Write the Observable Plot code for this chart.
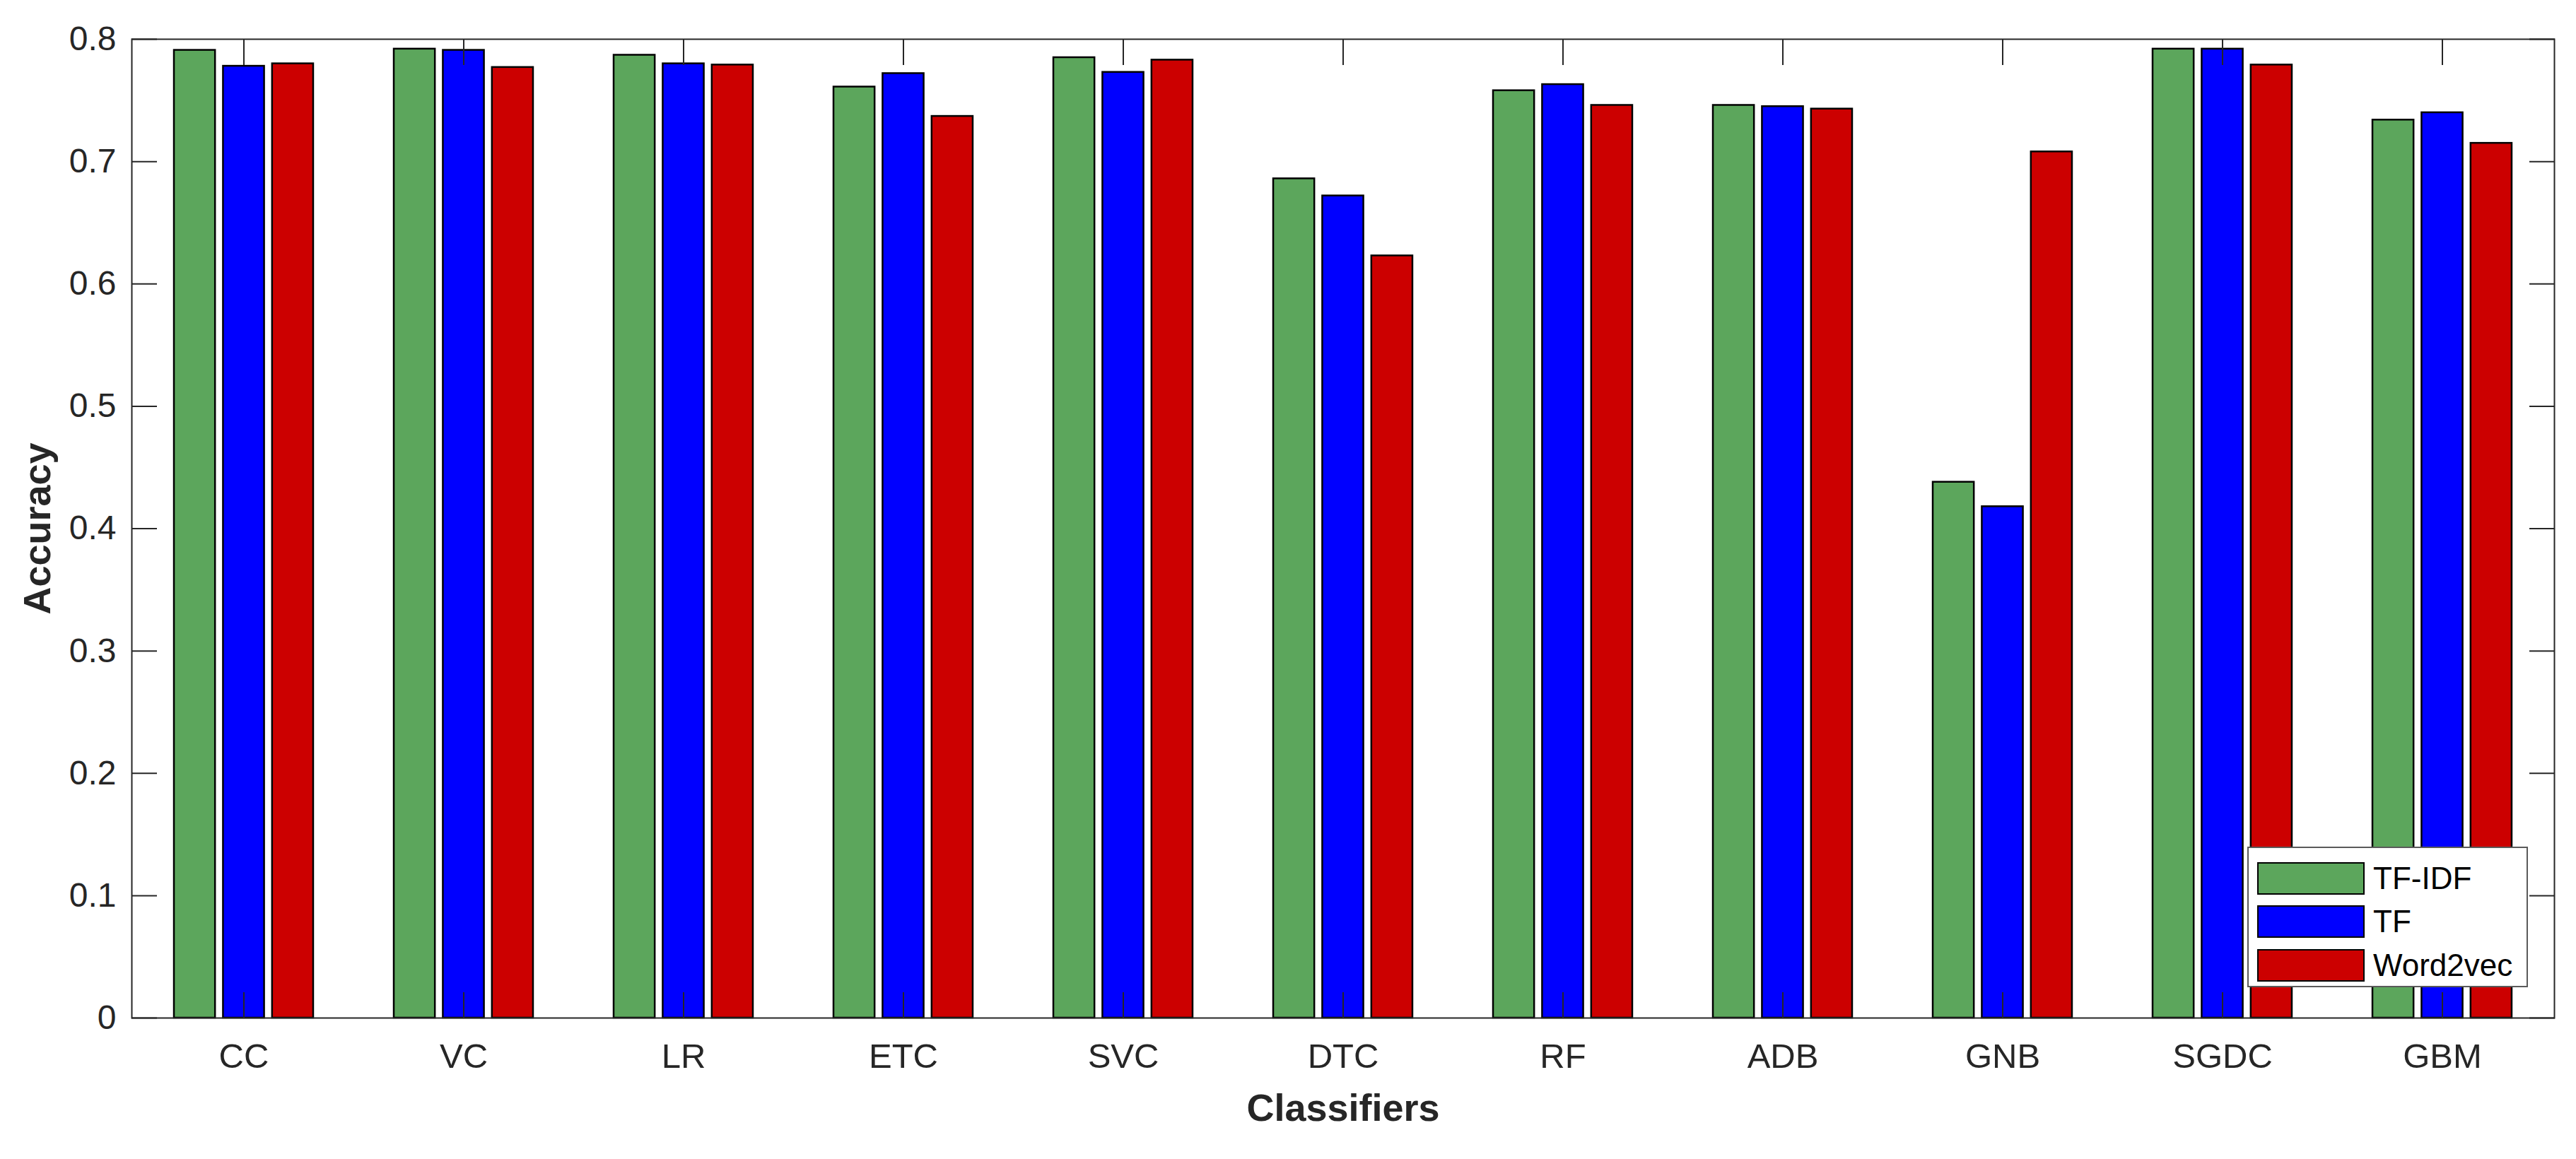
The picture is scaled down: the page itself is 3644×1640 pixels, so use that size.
<!DOCTYPE html>
<html>
<head>
<meta charset="utf-8">
<script src="https://cdn.jsdelivr.net/npm/d3@7"></script>
<script src="https://cdn.jsdelivr.net/npm/@observablehq/plot@0.6"></script>
<style>
  html, body { margin: 0; padding: 0; background: #fff; }
  #wrap { position: relative; width: 3644px; height: 1640px; overflow: hidden; }
  #legend {
    position: absolute; left: 3179px; top: 1198px; width: 397px; height: 199px;
    box-sizing: border-box; border: 2px solid #5a5a5a; background: #fff;
    font-family: "Liberation Sans", Arial, sans-serif; font-size: 44px; color: #000;
    padding: 12px 0 0 12px;
  }
  .row { display: flex; align-items: center; height: 61.5px; }
  .sw { width: 152px; height: 46px; box-sizing: border-box; border: 2.5px solid #000; margin-right: 12px; }
  .lab { line-height: 46px; }
</style>
</head>
<body>
<div id="wrap"></div>
<script>
// ---- data ----
const classifiers = ["CC", "VC", "LR", "ETC", "SVC", "DTC", "RF", "ADB", "GNB", "SGDC", "GBM"];
const methods = ["TF-IDF", "TF", "Word2vec"];
const tfidf    = [0.791, 0.792, 0.787, 0.761, 0.785, 0.686, 0.758, 0.746, 0.438, 0.792, 0.734];
const tf       = [0.778, 0.791, 0.780, 0.772, 0.773, 0.672, 0.763, 0.745, 0.418, 0.792, 0.740];
const word2vec = [0.780, 0.777, 0.779, 0.737, 0.783, 0.623, 0.746, 0.743, 0.708, 0.779, 0.715];
const yTicks = [0, 0.1, 0.2, 0.3, 0.4, 0.5, 0.6, 0.7, 0.8];
const colors = ["#5ca65c", "#0000ff", "#cc0000"];
const xTitle = "Classifiers";
const yTitle = "Accuracy";

const series = [tfidf, tf, word2vec];
const rows = classifiers.flatMap((c, i) => methods.map((m, j) => ({classifier: c, method: m, value: series[j][i]})));

const W = 3644, H = 1640;
const mL = 186, mR = 31, mT = 55, mB = 200;
const band = (W - mL - mR) / classifiers.length;
const barW = 58.7, barStep = 69.4;
const inset = (band - barW) / 2;

const font = "'Liberation Sans', Arial, Helvetica, sans-serif";
const ink = "#262626";

const barMarks = methods.map((m, j) =>
  Plot.barY(rows.filter(d => d.method === m), {
    x: "classifier", y: "value", fill: colors[j],
    stroke: "#000", strokeWidth: 2.5,
    insetLeft: inset, insetRight: inset, dx: (j - 1) * barStep
  })
);

const fmt = d => (d === 0 ? "0" : String(d));

const chart = Plot.plot({
  width: W, height: H,
  marginLeft: mL, marginRight: mR, marginTop: mT, marginBottom: mB,
  style: {fontFamily: font, background: "#fff", color: ink},
  x: {type: "band", domain: classifiers, padding: 0},
  y: {domain: [0, 0.8]},
  marks: [
    ...barMarks,
    Plot.frame({stroke: ink, strokeWidth: 2}),
    Plot.axisY(yTicks, {anchor: "left", tickSize: -36, tickPadding: 58, tickFormat: fmt, fontSize: 48, fill: ink, stroke: ink, strokeWidth: 2, label: null}),
    Plot.axisY(yTicks, {anchor: "right", tickSize: -36, tickFormat: () => "", stroke: ink, strokeWidth: 2, label: null}),
    Plot.axisX({anchor: "bottom", tickSize: -36, tickPadding: 72, fontSize: 49, fill: ink, stroke: ink, strokeWidth: 2, label: null}),
    Plot.axisX({anchor: "top", tickSize: -36, tickFormat: () => "", stroke: ink, strokeWidth: 2, label: null}),
    Plot.text([yTitle], {text: d => d, frameAnchor: "left", rotate: -90, textAnchor: "middle", lineAnchor: "bottom", dx: -116, fontSize: 54, fontWeight: "bold", fill: ink}),
    Plot.text([xTitle], {text: d => d, frameAnchor: "bottom", textAnchor: "middle", lineAnchor: "bottom", dy: 145, fontSize: 54, fontWeight: "bold", fill: ink})
  ]
});

const wrap = document.getElementById("wrap");
wrap.appendChild(chart);

// legend (inside axes, lower right)
const leg = document.createElement("div");
leg.id = "legend";
methods.forEach((m, j) => {
  const r = document.createElement("div"); r.className = "row";
  const s = document.createElement("div"); s.className = "sw"; s.style.background = colors[j];
  const t = document.createElement("div"); t.className = "lab"; t.textContent = m;
  r.appendChild(s); r.appendChild(t); leg.appendChild(r);
});
wrap.appendChild(leg);
</script>
</body>
</html>
